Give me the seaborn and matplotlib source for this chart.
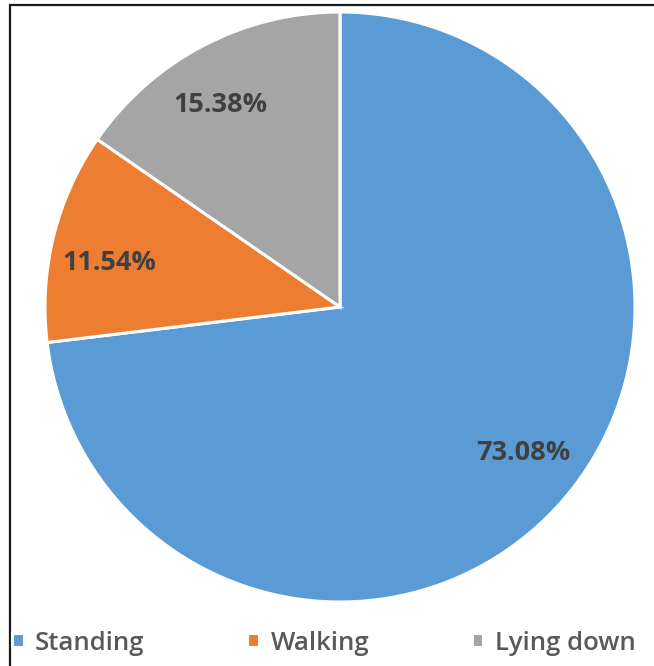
import matplotlib
matplotlib.use("Agg")
import matplotlib.pyplot as plt
import seaborn as sns
import numpy as np
from matplotlib.patches import Rectangle

categories = ["Standing", "Walking", "Lying down"]
values = [73.08, 11.54, 15.38]
colors = ["#5B9BD5", "#ED7D31", "#A5A5A5"]

sns.set_theme(style="white")
plt.rcParams['font.family'] = ['Open Sans', 'DejaVu Sans']

W, H = 654, 666
fig = plt.figure(figsize=(W / 100, H / 100), dpi=100)
fig.patch.set_facecolor("white")

cx, cy, r = 340, 307, 295
ax = fig.add_axes([(cx - r) / W, 1 - (cy + r) / H, 2 * r / W, 2 * r / H])
wedges, texts, autotexts = ax.pie(
    values, colors=colors, startangle=90, counterclock=False,
    autopct=lambda p: f"{p:.2f}%", pctdistance=0.795, radius=1,
    wedgeprops=dict(edgecolor="white", linewidth=2.2),
    textprops=dict(fontsize=19.5, fontweight="bold", color="#404040"))
# Excel places the labels slightly rotated (counter-clockwise) from wedge middles
rot = np.deg2rad(3)
for t in autotexts:
    x, y = t.get_position()
    t.set_position((x * np.cos(rot) - y * np.sin(rot),
                    x * np.sin(rot) + y * np.cos(rot)))
ax.set_xlim(-1, 1)
ax.set_ylim(-1, 1)
ax.set_aspect("equal")
ax.axis("off")

leg = fig.legend(wedges, categories, loc="center left", ncol=3,
                 bbox_to_anchor=(12 / W, 1 - 643 / H), frameon=False,
                 handlelength=0.45, handleheight=0.45, handletextpad=0.45,
                 columnspacing=4.0, borderaxespad=0, borderpad=0.0,
                 prop=dict(size=18.5, weight="semibold"), labelcolor="#595959")

fig.patches.append(Rectangle((10 / W, -0.1), 1.2, 1 - 5 / H + 0.1,
                             transform=fig.transFigure, fill=False,
                             edgecolor="#1a1a1a", linewidth=1.6))

fig.savefig("out.png", dpi=100, facecolor="white")
